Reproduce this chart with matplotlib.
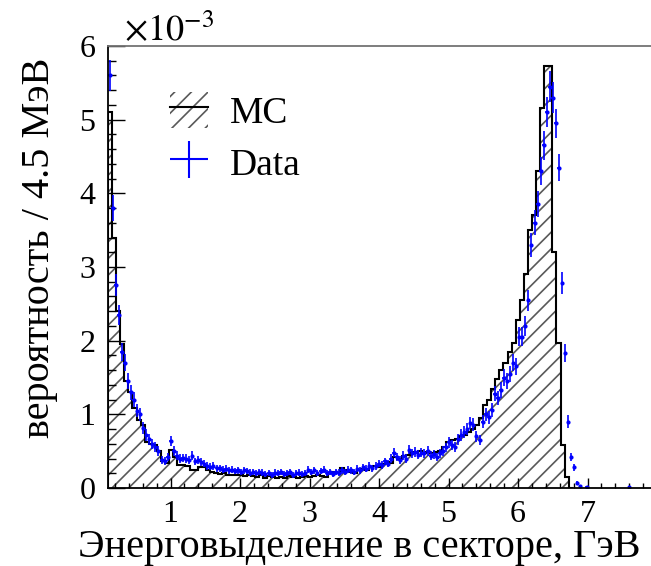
"""
Energy deposit in a calorimeter sector: MC histogram vs data points.
"""
import numpy as np
import matplotlib
matplotlib.use("Agg")
import matplotlib.pyplot as plt
from matplotlib.patches import Patch
from matplotlib.lines import Line2D
from matplotlib.ticker import MultipleLocator

plt.rcParams['font.family'] = ['Liberation Serif', 'DejaVu Serif']
plt.rcParams['mathtext.fontset'] = 'stix'
plt.rcParams['hatch.linewidth'] = 1.2

# MC histogram, probability per bin (x 1e-3), bins of 0.0587 GeV from 0.1 GeV
mc_values = [
    5.1, 3.4, 2.4, 1.95, 1.45, 1.3, 1.08, 0.92, 0.85, 0.62,
    0.6, 0.58, 0.5, 0.36, 0.34, 0.52, 0.42, 0.31, 0.31, 0.3,
    0.24, 0.24, 0.28, 0.29, 0.25, 0.22, 0.21, 0.19, 0.2, 0.18,
    0.18, 0.17, 0.18, 0.16, 0.18, 0.16, 0.15, 0.17, 0.14, 0.16,
    0.15, 0.14, 0.15, 0.14, 0.16, 0.15, 0.13, 0.15, 0.16, 0.15,
    0.16, 0.17, 0.16, 0.15, 0.2, 0.22, 0.2, 0.27, 0.25, 0.22,
    0.2, 0.24, 0.26, 0.25, 0.28, 0.3, 0.28, 0.32, 0.35, 0.34,
    0.42, 0.4, 0.43, 0.45, 0.49, 0.47, 0.5, 0.48, 0.49, 0.47,
    0.49, 0.5, 0.55, 0.63, 0.65, 0.67, 0.7, 0.72, 0.76, 0.8,
    0.86, 0.95, 1.12, 1.2, 1.35, 1.48, 1.6, 1.7, 1.85, 1.97,
    2.28, 2.55, 2.9, 3.5, 3.7, 4.3, 5.16, 5.73, 5.73, 3.2,
    1.97, 0.58, 0.15, 0.0,
]

# data, probability per bin (x 1e-3), bins of 0.044 GeV from 0.1 GeV
data_values = [
    5.6, 3.8, 2.75, 2.35, 1.85, 1.7, 1.45, 1.3, 1.2, 1.05,
    1.0, 0.82, 0.72, 0.66, 0.6, 0.56, 0.5, 0.38, 0.37, 0.42,
    0.64, 0.5, 0.44, 0.4, 0.41, 0.4, 0.38, 0.44, 0.36, 0.38,
    0.35, 0.33, 0.3, 0.29, 0.3, 0.27, 0.27, 0.25, 0.26, 0.24,
    0.25, 0.23, 0.24, 0.22, 0.24, 0.23, 0.21, 0.22, 0.2, 0.22,
    0.21, 0.19, 0.2, 0.18, 0.21, 0.2, 0.22, 0.19, 0.2, 0.22,
    0.18, 0.2, 0.21, 0.19, 0.2, 0.25, 0.22, 0.24, 0.2, 0.23,
    0.25, 0.2, 0.22, 0.19, 0.22, 0.21, 0.24, 0.22, 0.25, 0.24,
    0.22, 0.26, 0.24, 0.28, 0.26, 0.3, 0.27, 0.3, 0.33, 0.31,
    0.36, 0.33, 0.4, 0.48, 0.42, 0.38, 0.44, 0.4, 0.52, 0.47,
    0.49, 0.45, 0.48, 0.47, 0.5, 0.44, 0.46, 0.42, 0.47, 0.5,
    0.55, 0.62, 0.58, 0.56, 0.66, 0.72, 0.76, 0.8, 0.88, 0.86,
    0.7, 0.65, 0.9, 1.0, 0.96, 1.06, 1.28, 1.22, 1.33, 1.5,
    1.45, 1.55, 1.7, 1.65, 2.05, 2.05, 2.2, 2.55, 3.3, 3.6,
    3.85, 4.3, 4.65, 5.1, 5.45, 5.3, 4.95, 4.35, 2.78, 1.83,
    0.9, 0.42, 0.28, 0.07, 0.03, 0.0, 0.01, 0.0, 0.0, 0.0,
    0.0, 0.0, 0.0, 0.0, 0.0, 0.0, 0.0, 0.0, 0.0, 0.0,
    0.01, 0.0,
]

mc_width = 0.044 * 4 / 3
data_width = 0.044
mc_edges = 0.1 + mc_width * np.arange(len(mc_values) + 1)
data_x = 0.1 + data_width * (np.arange(len(data_values)) + 0.5)
data_y = np.array(data_values)
keep = data_y > 0
data_x, data_y = data_x[keep], data_y[keep]
data_err = 0.09 * np.sqrt(data_y)

fig = plt.figure(figsize=(6.51, 5.66), dpi=100)
ax = fig.add_axes([108 / 651, 1 - 488 / 566, 549 / 651, 442 / 566])

ax.stairs(mc_values, mc_edges, fill=True, facecolor='white', edgecolor='0.35',
          hatch='//', linewidth=0)
ax.stairs(mc_values, mc_edges, color='black', lw=1.5)
ax.errorbar(data_x, data_y, yerr=data_err, xerr=data_width / 2, fmt='o', ms=2,
            color='blue', elinewidth=1.2, capsize=0)

ax.set_xlim(0.1, 8.0)
ax.set_ylim(0, 6)
ax.xaxis.set_major_locator(MultipleLocator(1))
ax.xaxis.set_minor_locator(MultipleLocator(0.2))
ax.yaxis.set_major_locator(MultipleLocator(1))
ax.yaxis.set_minor_locator(MultipleLocator(0.2))
ax.set_xticks([1, 2, 3, 4, 5, 6, 7])
ax.tick_params(axis='both', which='both', direction='in', labelsize=23, width=1)
ax.tick_params(axis='x', which='major', length=7, pad=9)
ax.tick_params(axis='x', which='minor', length=3.5)
ax.tick_params(axis='y', which='major', length=12, pad=9)
ax.tick_params(axis='y', which='minor', length=6)
for s in ax.spines.values():
    s.set_linewidth(1.3)
ax.spines['top'].set_color('0.45')

fig.text(640 / 651, 1 - 548 / 566, "Энерговыделение в секторе, ГэВ",
         fontsize=29, ha='right', va='center')
fig.text(40 / 651, 1 - 58 / 566, "вероятность / 4.5 МэВ",
         fontsize=29, rotation=90, ha='center', va='top')
fig.text(124 / 651, 1 - 32 / 566, r"$\times10^{-3}$", fontsize=26,
         ha='left', va='center')

mc_handle = (Patch(facecolor='white', edgecolor='0.35', hatch='//', lw=0),
             Line2D([], [], color='black', lw=1.5))
data_handle = ax.errorbar([], [], yerr=[], xerr=[], fmt='none', color='blue',
                          elinewidth=1.5)
ax.legend([mc_handle, data_handle], ["MC", "Data"], frameon=False, fontsize=27,
          loc='upper left', bbox_to_anchor=(170 / 651, 1 - 92 / 566),
          bbox_transform=fig.transFigure, borderpad=0, borderaxespad=0,
          handlelength=1.0, handleheight=1.1, handletextpad=0.6,
          labelspacing=0.35)

fig.savefig("out.png", dpi=100)
